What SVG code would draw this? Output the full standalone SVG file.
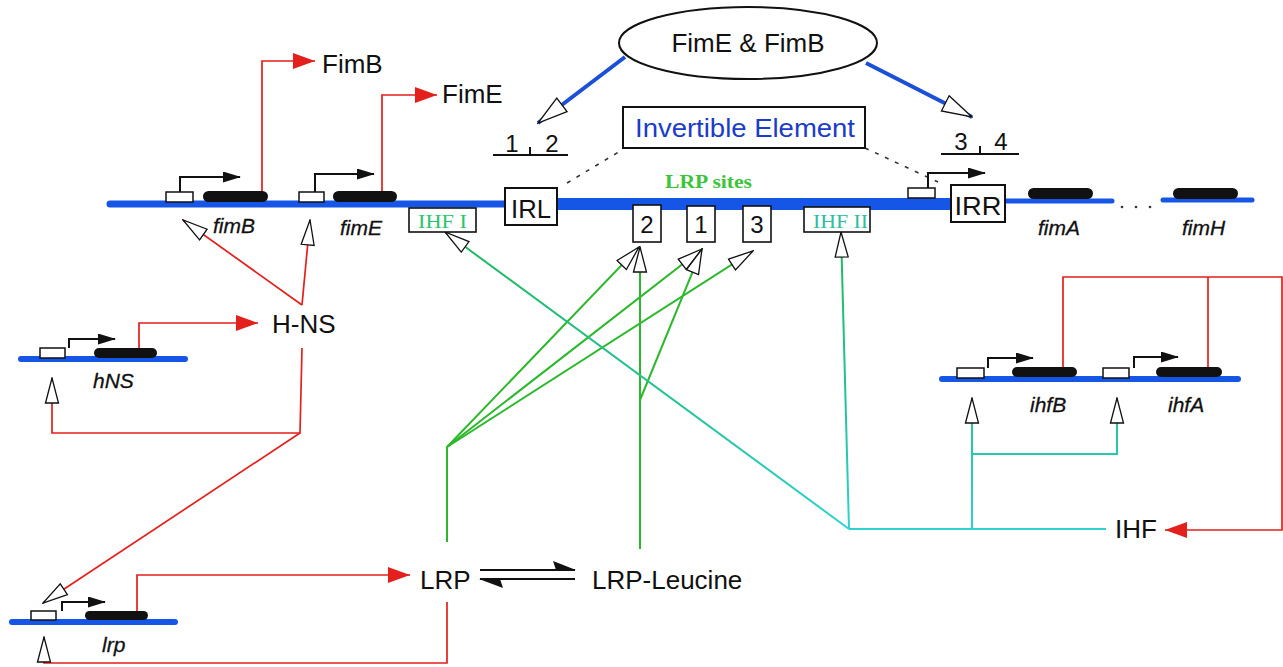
<svg xmlns="http://www.w3.org/2000/svg" width="1283" height="667" viewBox="0 0 1283 667">
<style>
.lab{font-family:"Liberation Sans",Arial,sans-serif;font-size:26px;fill:#111}
.it{font-family:"Liberation Sans",Arial,sans-serif;font-style:italic;font-size:21px;fill:#111;stroke:#111;stroke-width:0.3}
.num{font-family:"Liberation Sans",Arial,sans-serif;font-size:24px;fill:#111;text-anchor:middle}
.ser{font-family:"Liberation Serif","Times New Roman",serif}
.box{fill:#fff;stroke:#111;stroke-width:2}
.sbox{fill:#fff;stroke:#111;stroke-width:1.6}
.prom{fill:#fff;stroke:#111;stroke-width:1.5}
.gene{fill:#111}
.dna{stroke:#1556e6;stroke-linecap:round;fill:none}
.bent{fill:none;stroke:#111;stroke-width:2;marker-end:url(#blk)}
.red{fill:none;stroke:#e3201b;stroke-width:1.7}
.redA{marker-end:url(#redA)}
.open{marker-end:url(#open)}
.grn{fill:none;stroke:#2cb82c;stroke-width:2}
.ihf{fill:none;stroke:url(#ihfg);stroke-width:2}
.blu{fill:none;stroke:#1a4fd6;stroke-width:4;marker-end:url(#openL)}
.dash{fill:none;stroke:#333;stroke-width:1.6;stroke-dasharray:4 7}
</style>
<defs>
<linearGradient id="ihfg" gradientUnits="userSpaceOnUse" x1="0" y1="230" x2="0" y2="532">
<stop offset="0" stop-color="#1fb85a"/><stop offset="0.6" stop-color="#22c49a"/><stop offset="1" stop-color="#30d2d2"/>
</linearGradient>
<marker id="open" viewBox="0 0 27 16" refX="26" refY="8" markerWidth="27" markerHeight="16" markerUnits="userSpaceOnUse" orient="auto">
<path d="M1,1.5 L26,8 L1,14.5 Z" fill="#fff" stroke="#111" stroke-width="1.3"/>
</marker>
<marker id="openL" viewBox="0 0 32 20" refX="31" refY="10" markerWidth="32" markerHeight="20" markerUnits="userSpaceOnUse" orient="auto">
<path d="M1,1.5 L31,10 L1,18.5 Z" fill="#fff" stroke="#111" stroke-width="1.3"/>
</marker>
<marker id="redA" viewBox="0 0 22 16" refX="22" refY="8" markerWidth="22" markerHeight="16" markerUnits="userSpaceOnUse" orient="auto">
<path d="M0,0 L22,8 L0,16 Z" fill="#e3201b"/>
</marker>
<marker id="blk" viewBox="0 0 18 11" refX="17" refY="5.5" markerWidth="18" markerHeight="11" markerUnits="userSpaceOnUse" orient="auto">
<path d="M0,0 L18,5.5 L0,11 Z" fill="#111"/>
</marker>
</defs>
<rect width="1283" height="667" fill="#fff"/>

<g id="connectors">
<line class="blu" x1="625" y1="57" x2="538" y2="123"/>
<line class="blu" x1="866" y1="63" x2="972" y2="117"/>
<line class="dash" x1="567" y1="183" x2="622" y2="150"/>
<line class="dash" x1="865" y1="148" x2="938" y2="182"/>
<polyline class="red redA" points="262,192 262,61 315,61"/>
<polyline class="red redA" points="382,192 382,95 437,95"/>
<polyline class="red redA" points="139,349 139,323 258,323"/>
<polyline class="red redA" points="137,612 137,575 410,575"/>
<polyline class="red redA" points="1063,368 1063,277 1282,277 1282,530 1165,530"/>
<line class="red" x1="1208" y1="368" x2="1208" y2="277"/>
<line class="red open" x1="302" y1="305" x2="183" y2="220"/>
<line class="red open" x1="302" y1="305" x2="310" y2="220"/>
<polyline class="red open" points="302,348 300,433 52,433 52,378"/>
<line class="red open" x1="300" y1="433" x2="43" y2="603"/>
<polyline class="red open" points="447,602 447,663 44,663 44,637"/>
<line class="grn" x1="447" y1="542" x2="447" y2="447"/>
<line class="grn open" x1="447" y1="447" x2="639" y2="247"/>
<line class="grn open" x1="447" y1="447" x2="702" y2="249"/>
<line class="grn open" x1="447" y1="447" x2="753" y2="251"/>
<line class="grn open" x1="640" y1="549" x2="640" y2="247"/>
<line class="grn open" x1="640" y1="400" x2="702" y2="249"/>
<line class="ihf open" x1="849" y1="529" x2="445" y2="232"/>
<line class="ihf open" x1="849" y1="529" x2="841" y2="232"/>
<line class="ihf" x1="849" y1="529" x2="1106" y2="529"/>
<line class="ihf open" x1="972" y1="529" x2="972" y2="398"/>
<polyline class="ihf open" points="972,454 1117,454 1117,398"/>
<line x1="480" y1="570" x2="575" y2="570" stroke="#111" stroke-width="2"/>
<polygon points="576,570 553,561 556,570" fill="#111"/>
<line x1="480" y1="579" x2="575" y2="579" stroke="#111" stroke-width="2"/>
<polygon points="479,579 503,588 500,579" fill="#111"/>
</g>

<g id="fim-operon">
<line class="dna" x1="110" y1="204" x2="530" y2="204" stroke-width="7"/>
<line class="dna" x1="530" y1="204" x2="980" y2="204" stroke-width="12" stroke-linecap="butt"/>
<line class="dna" x1="980" y1="201" x2="1112" y2="201" stroke-width="5"/>
<line class="dna" x1="1163" y1="200" x2="1252" y2="200" stroke-width="5"/>
<circle cx="1122" cy="207" r="1.3" fill="#333"/>
<circle cx="1136" cy="207" r="1.3" fill="#333"/>
<circle cx="1150" cy="207" r="1.3" fill="#333"/>
</g>

<g id="fimB">
<rect class="prom" x="166" y="192" width="27" height="10"/>
<path class="bent" d="M180,192 V177 H240"/>
<rect class="gene" x="203" y="191" width="65" height="11" rx="5.5"/>
<text class="it" x="213" y="233">fimB</text>
</g>
<g id="fimE">
<rect class="prom" x="299" y="192" width="25" height="10"/>
<path class="bent" d="M315,192 V174 H374"/>
<rect class="gene" x="333" y="191" width="64" height="11" rx="5.5"/>
<text class="it" x="340" y="235">fimE</text>
</g>
<g id="FimB-protein"><text class="lab" x="322" y="73">FimB</text></g>
<g id="FimE-protein"><text class="lab" x="442" y="103">FimE</text></g>

<g id="recombinases">
<ellipse cx="748" cy="43" rx="129" ry="36" fill="#fff" stroke="#111" stroke-width="2"/>
<text class="lab" x="748" y="52" text-anchor="middle">FimE &amp; FimB</text>
</g>

<g id="sites-1-2">
<line x1="493" y1="155" x2="568" y2="155" stroke="#111" stroke-width="2"/>
<line x1="530" y1="147" x2="530" y2="155" stroke="#111" stroke-width="2"/>
<text class="num" x="512" y="152" font-size="22">1</text>
<text class="num" x="552" y="152" font-size="22">2</text>
</g>
<g id="sites-3-4">
<line x1="941" y1="154" x2="1019" y2="154" stroke="#111" stroke-width="2"/>
<line x1="980" y1="146" x2="980" y2="154" stroke="#111" stroke-width="2"/>
<text class="num" x="961" y="150" font-size="22">3</text>
<text class="num" x="1001" y="150" font-size="22">4</text>
</g>

<g id="invertible-element">
<rect class="box" x="623" y="107" width="242" height="41"/>
<text class="lab" x="635" y="137" style="fill:#1a3cc8" textLength="220" lengthAdjust="spacingAndGlyphs">Invertible Element</text>
</g>

<g id="IRL">
<rect class="box" x="505" y="188" width="52" height="37"/>
<text class="lab" x="531" y="218" text-anchor="middle" font-size="28" textLength="40" lengthAdjust="spacingAndGlyphs">IRL</text>
</g>
<g id="IRR">
<rect class="prom" x="908" y="188" width="27" height="10"/>
<path class="bent" d="M928,188 V173 H985"/>
<rect class="box" x="951" y="185" width="54" height="37"/>
<text class="lab" x="978" y="215" text-anchor="middle" font-size="28" textLength="47" lengthAdjust="spacingAndGlyphs">IRR</text>
</g>
<g id="fimA">
<rect class="gene" x="1028" y="188" width="65" height="11" rx="5.5"/>
<text class="it" x="1038" y="235">fimA</text>
</g>
<g id="fimH">
<rect class="gene" x="1173" y="188" width="65" height="11" rx="5.5"/>
<text class="it" x="1182" y="235">fimH</text>
</g>

<g id="LRP-sites">
<text class="ser" x="665" y="188" font-size="18" font-weight="bold" fill="#3cc43c" textLength="87" lengthAdjust="spacingAndGlyphs">LRP sites</text>
<rect class="sbox" x="633" y="205" width="28" height="37"/>
<text class="num" x="647" y="233">2</text>
<rect class="sbox" x="687" y="206" width="28" height="36"/>
<text class="num" x="701" y="233">1</text>
<rect class="sbox" x="743" y="206" width="28" height="36"/>
<text class="num" x="757" y="233">3</text>
</g>
<g id="IHF-I">
<rect class="sbox" x="409" y="208" width="67" height="24"/>
<text class="ser" x="418" y="228" font-size="19" fill="#2cc46c" textLength="49" lengthAdjust="spacingAndGlyphs">IHF I</text>
</g>
<g id="IHF-II">
<rect class="sbox" x="804" y="207" width="66" height="25"/>
<text class="ser" x="813" y="228" font-size="19" fill="#2cbfa0" textLength="55" lengthAdjust="spacingAndGlyphs">IHF II</text>
</g>

<g id="hNS">
<line class="dna" x1="21" y1="359" x2="185" y2="359" stroke-width="6"/>
<rect class="prom" x="40" y="348" width="25" height="10"/>
<path class="bent" d="M69,348 V339 H115"/>
<rect class="gene" x="94" y="348" width="63" height="10" rx="5"/>
<text class="it" x="93" y="388">hNS</text>
</g>
<g id="H-NS"><text class="lab" x="272" y="333">H-NS</text></g>

<g id="lrp">
<line class="dna" x1="12" y1="622" x2="175" y2="622" stroke-width="6"/>
<rect class="prom" x="31" y="611" width="25" height="9"/>
<path class="bent" d="M62,611 V602 H105"/>
<rect class="gene" x="85" y="611" width="63" height="9" rx="4.5"/>
<text class="it" x="102" y="652">lrp</text>
</g>
<g id="LRP"><text class="lab" x="420" y="589">LRP</text></g>
<g id="LRP-Leucine"><text class="lab" x="592" y="589">LRP-Leucine</text></g>

<g id="ihf-genes">
<line class="dna" x1="942" y1="379" x2="1238" y2="379" stroke-width="6"/>
<rect class="prom" x="957" y="368" width="27" height="10"/>
<path class="bent" d="M988,368 V358 H1033"/>
<rect class="gene" x="1012" y="367" width="65" height="10" rx="5"/>
<text class="it" x="1030" y="412">ihfB</text>
<rect class="prom" x="1103" y="368" width="26" height="10"/>
<path class="bent" d="M1134,368 V357 H1178"/>
<rect class="gene" x="1156" y="367" width="66" height="10" rx="5"/>
<text class="it" x="1168" y="412">ihfA</text>
</g>
<g id="IHF"><text class="lab" x="1115" y="538">IHF</text></g>
</svg>
